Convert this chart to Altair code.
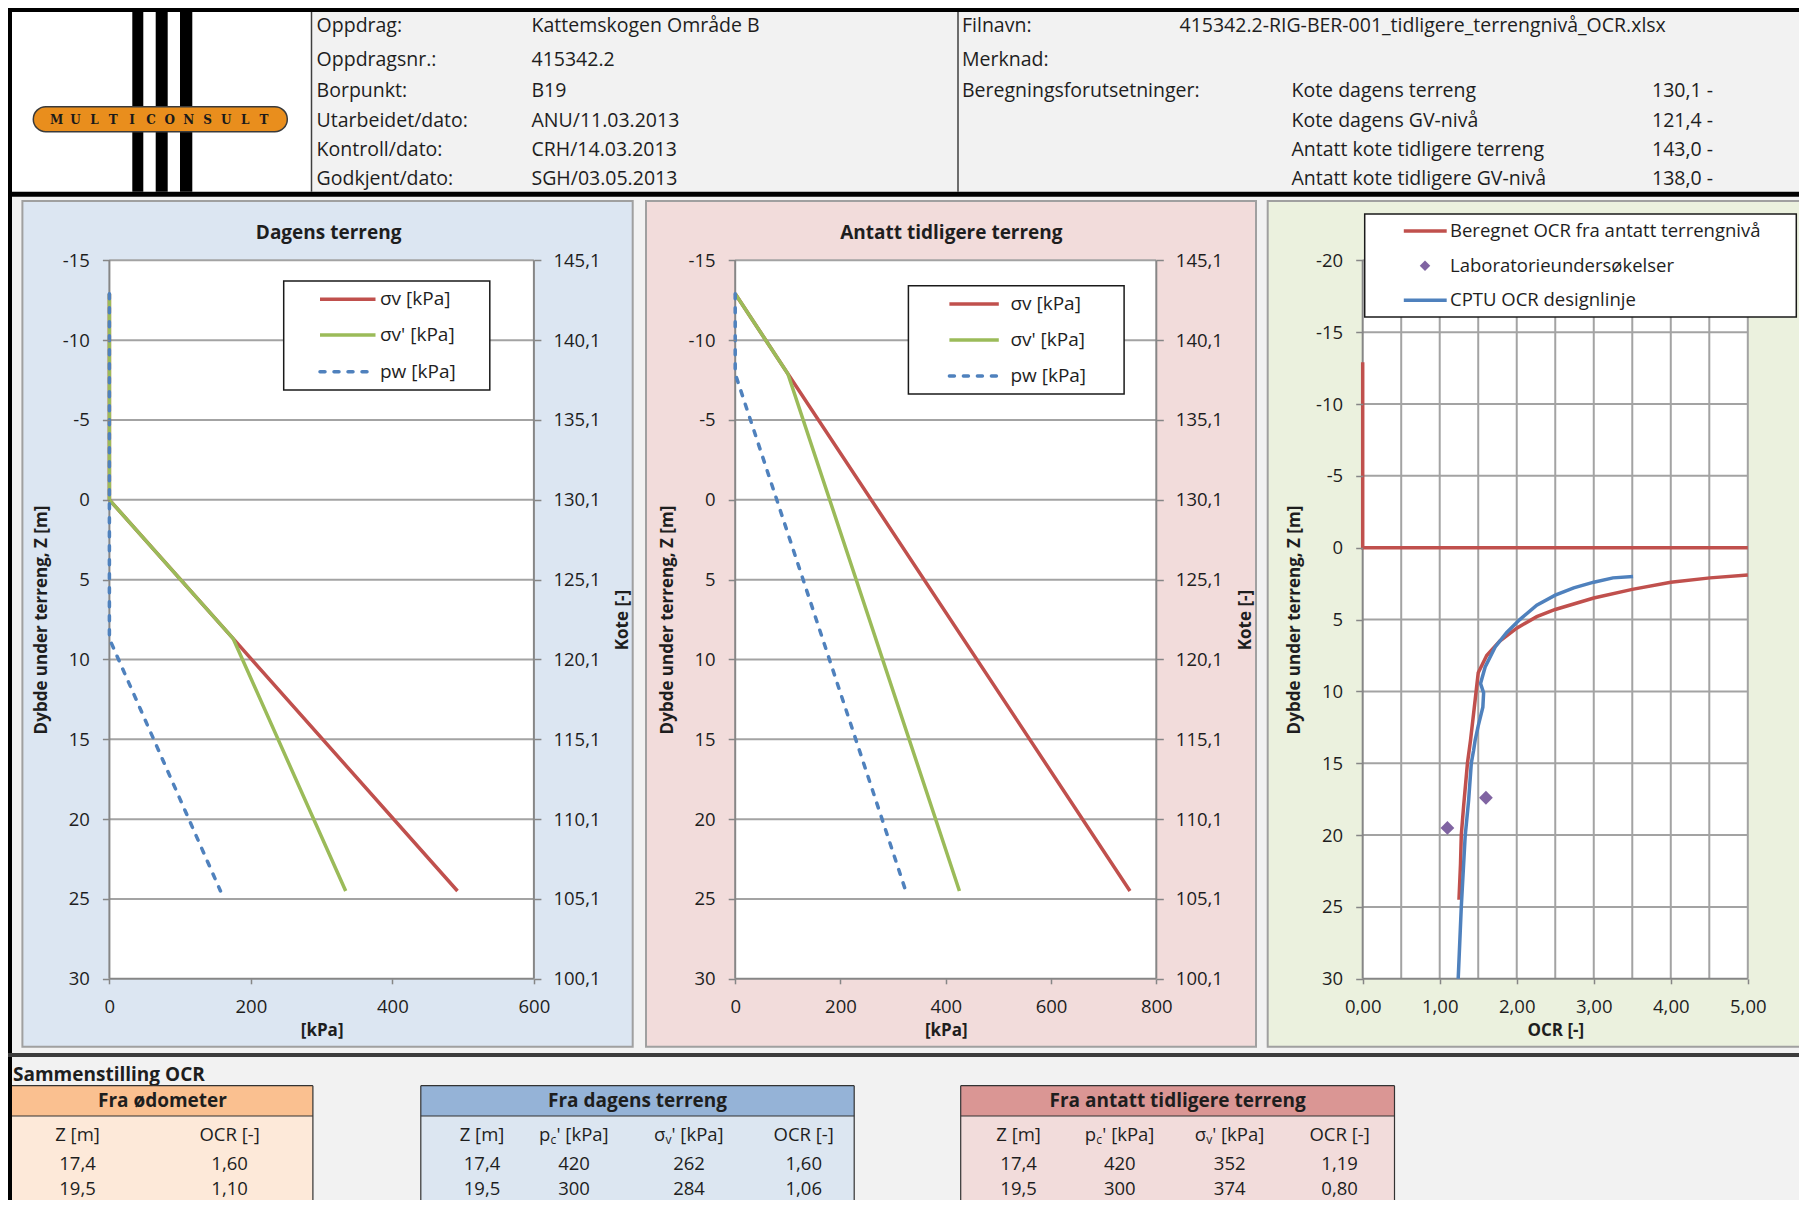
import altair as alt
import pandas as pd

W, H = 1791, 1192
FONT = "Open Sans"
TXT = "#1e1e1e"
RED, GREEN, BLUE, PURPLE = "#c0504d", "#9bbb59", "#4f81bd", "#8064a2"
GRID = "#a3a3a3"
AXC = "#868686"

# ---------------- data ----------------
header_left_labels = ["Oppdrag:", "Oppdragsnr.:", "Borpunkt:", "Utarbeidet/dato:", "Kontroll/dato:", "Godkjent/dato:"]
header_left_values = ["Kattemskogen Område B", "415342.2", "B19", "ANU/11.03.2013", "CRH/14.03.2013", "SGH/03.05.2013"]
header_right_labels = ["Filnavn:", "Merknad:", "Beregningsforutsetninger:"]
file_name = "415342.2-RIG-BER-001_tidligere_terrengnivå_OCR.xlsx"
param_names = ["Kote dagens terreng", "Kote dagens GV-nivå", "Antatt kote tidligere terreng", "Antatt kote tidligere GV-nivå"]
param_values = [130.1, 121.4, 143.0, 138.0]
logo_letters = list("MULTICONSULT")

panel_titles = ["Dagens terreng", "Antatt tidligere terreng"]
stress_labels = ["σv [kPa]", "σv' [kPa]", "pw [kPa]"]
ocr_labels = ["Beregnet OCR fra antatt terrengnivå", "Laboratorieundersøkelser", "CPTU OCR designlinje"]
depth_title = "Dybde under terreng, Z [m]"

depth_ticks = [-15, -10, -5, 0, 5, 10, 15, 20, 25, 30]
ocr_depth_ticks = [-20, -15, -10, -5, 0, 5, 10, 15, 20, 25, 30]
kpa_ticks_dagens = [0, 200, 400, 600]
kpa_ticks_tidl = [0, 200, 400, 600, 800]
ocr_ticks = [0, 1, 2, 3, 4, 5]
ocr_grid = [0.5, 1.0, 1.5, 2.0, 2.5, 3.0, 3.5, 4.0, 4.5, 5.0]

# Dagens terreng (depth [m], stress [kPa])
depth_dagens = [-12.9, 0.0, 8.7, 24.5]
sv_dagens = [0, 0, 175, 492]
sve_dagens = [0, 0, 175, 334]
pw_dagens = [0, 0, 0, 157]

# Antatt tidligere terreng
depth_tidl = [-12.9, -7.9, 24.5]
sv_tidl = [0, 100, 750]
sve_tidl = [0, 100, 426]
pw_tidl = [0, 0, 324]

# OCR panel
ocr_calc_depth_a = [-12.9, 0.0, 0.0]
ocr_calc_a = [0.0, 0.0, 5.0]
ocr_calc_depth_b = [1.9, 2.1, 2.4, 2.9, 3.5, 4.3, 4.8, 5.6, 6.5, 7.5, 8.7, 10.6, 13.4, 15.0, 18.0, 20.0, 22.0, 24.5]
ocr_calc_b = [5.00, 4.51, 4.00, 3.50, 3.00, 2.50, 2.26, 2.00, 1.78, 1.61, 1.50, 1.46, 1.40, 1.36, 1.31, 1.28, 1.27, 1.25]
cptu_depth = [2.0, 2.1, 2.4, 2.8, 3.3, 4.0, 5.0, 5.9, 6.9, 8.3, 9.45, 10.1, 11.1, 12.4, 13.4, 14.1, 15.0, 17.6, 20.1, 25.0, 30.0]
cptu_ocr = [3.51, 3.25, 3.00, 2.74, 2.50, 2.26, 2.04, 1.87, 1.72, 1.59, 1.53, 1.57, 1.56, 1.50, 1.46, 1.44, 1.41, 1.375, 1.33, 1.28, 1.24]

# Tables
lab_z = [17.4, 19.5]
lab_ocr = [1.60, 1.10]
pc_values = [420, 300]
sve_dagens_samples = [262, 284]
ocr_dagens_samples = [1.60, 1.06]
sve_tidl_samples = [352, 374]
ocr_tidl_samples = [1.19, 0.80]
table_titles = ["Fra ødometer", "Fra dagens terreng", "Fra antatt tidligere terreng"]


def nf(v, d):
    return f"{v:.{d}f}".replace(".", ",")


ONE = pd.DataFrame({"k": [0]})


# ---------------- helpers (decoration) ----------------
def rect(x, x2, y, y2, fill, stroke=None, sw=0, **kw):
    props = dict(fill=fill, **kw)
    if stroke is not None:
        props.update(stroke=stroke, strokeWidth=sw)
    else:
        props.update(strokeWidth=0)
    return alt.Chart(ONE).mark_rect(**props).encode(
        x=alt.value(x), x2=alt.value(x2), y=alt.value(y), y2=alt.value(y2))


def hline(x, x2, y, color, sw, dash=None, cap="butt"):
    props = dict(color=color, strokeWidth=sw, strokeCap=cap)
    if dash:
        props["strokeDash"] = dash
    return alt.Chart(ONE).mark_rule(**props).encode(x=alt.value(x), x2=alt.value(x2), y=alt.value(y))


def vline(x, y, y2, color, sw):
    return alt.Chart(ONE).mark_rule(color=color, strokeWidth=sw).encode(
        x=alt.value(x), y=alt.value(y), y2=alt.value(y2))


def text(t, x, y, size=19, weight="normal", align="left", color=TXT, font=FONT):
    return alt.Chart(ONE).mark_text(text=t, fontSize=size, fontWeight=weight, align=align,
                                    baseline="middle", color=color, font=font).encode(
        x=alt.value(x), y=alt.value(y))


AX = dict(labelFont=FONT, labelFontSize=18.5, labelColor=TXT, titleFont=FONT, titleFontSize=17,
          titleFontWeight="bold", titleColor=TXT, tickColor=AXC, tickWidth=1.5, domain=False,
          grid=False, labelFlush=False, labelOverlap=False, zindex=1)

PY0, PY1 = 252.3, 970.8
LW = 3.5

layers = []

# ---------------- header ----------------
layers.append(rect(4, 303.5, 4, 183.7, "white"))
for bx0, bx1 in [(124.3, 135.3), (147.7, 159.7), (172, 184.3)]:
    layers.append(rect(bx0, bx1, 4, 183.7, "black"))
layers.append(rect(25.3, 279.3, 98.7, 123.7, "#e98e1d", stroke="#3a3a3a", sw=1.5, cornerRadius=12.5))
letters = pd.DataFrame({"i": list(range(len(logo_letters))), "t": logo_letters})
layers.append(alt.Chart(letters).mark_text(font="DejaVu Serif", fontSize=12, fontWeight="bold", color="#1a1a1a",
                                           baseline="middle").encode(
    x=alt.X("i:Q", scale=alt.Scale(domain=[0, len(logo_letters) - 1], range=[48.7, 256], zero=False, nice=False), axis=None),
    y=alt.value(111.5), text="t:N"))
layers.append(vline(303.5, 4, 183.7, "#404040", 1.5))
layers.append(vline(950, 4, 183.7, "#404040", 1.5))

HDR_ROW_Y = [17.8, 51.6, 82.8, 112.8, 141.7, 171.3]


def hdr_text(rows, texts, x):
    df = pd.DataFrame({"r": rows, "t": texts})
    return alt.Chart(df).mark_text(align="left", baseline="middle", font=FONT, fontSize=19.5, color=TXT).encode(
        x=alt.value(x),
        y=alt.Y("r:Q", scale=alt.Scale(domain=list(range(6)), range=HDR_ROW_Y, zero=False, nice=False), axis=None),
        text="t:N")


layers.append(hdr_text(list(range(6)), header_left_labels, 308.6))
layers.append(hdr_text(list(range(6)), header_left_values, 523.5))
layers.append(hdr_text([0, 1, 2], header_right_labels, 954))
layers.append(hdr_text([0], [file_name], 1171.5))
layers.append(hdr_text([2, 3, 4, 5], param_names, 1283.5))
layers.append(hdr_text([2, 3, 4, 5], [nf(v, 1) + " -" for v in param_values], 1644))

# frame
layers.append(rect(0, W, 0, 4, "black"))
layers.append(rect(0, 4, 0, H, "black"))
layers.append(rect(0, W, 183.7, 188.7, "black"))

# ---------------- panel backgrounds ----------------
layers.append(rect(14.4, 624.7, 193, 1038.7, "#dce6f2", stroke="#a0a0a0", sw=2))
layers.append(rect(638, 1248, 193, 1038.7, "#f2dcdb", stroke="#a0a0a0", sw=2))
layers.append(rect(1259.7, 1800, 193, 1038.7, "#ebf1de", stroke="#a0a0a0", sw=2))
layers.append(text(panel_titles[0], 320.6, 224.7, weight="bold", align="center"))
layers.append(text(panel_titles[1], 943.4, 224.7, weight="bold", align="center"))


def y_axis_layer(ticks, scale, axis):
    return alt.Chart(pd.DataFrame({"g": ticks})).mark_point(opacity=0).encode(
        y=alt.Y("g:Q", scale=scale, axis=axis))


def x_axis_layer(ticks, scale, axis):
    return alt.Chart(pd.DataFrame({"g": ticks})).mark_point(opacity=0).encode(
        x=alt.X("g:Q", scale=scale, axis=axis))


def stress_panel(depth, sv, sve, pw, xmax, xticks, px0, px1, kote0):
    xsc = alt.Scale(domain=[0, xmax], range=[px0, px1], zero=False, nice=False)
    ysc = alt.Scale(domain=[-15, 30], range=[PY0, PY1], zero=False, nice=False)

    def xd(v):
        return alt.XDatum(v, type="quantitative", scale=xsc, axis=None)

    def yd(v):
        return alt.YDatum(v, type="quantitative", scale=ysc, axis=None)

    plot_bg = alt.Chart(ONE).mark_rect(fill="white", strokeWidth=0).encode(
        x=xd(0), x2=alt.X2Datum(xmax), y=yd(-15), y2=alt.Y2Datum(30))
    grid = alt.Chart(pd.DataFrame({"g": depth_ticks[:-1]})).mark_rule(color=GRID, strokeWidth=2).encode(
        y=alt.Y("g:Q", scale=ysc, axis=None), x=xd(0), x2=alt.X2Datum(xmax))
    left = alt.Chart(ONE).mark_rule(color=AXC, strokeWidth=2).encode(x=xd(0), y=yd(-15), y2=alt.Y2Datum(30))
    right = alt.Chart(ONE).mark_rule(color=AXC, strokeWidth=2).encode(x=xd(xmax), y=yd(-15), y2=alt.Y2Datum(30))
    bottom = alt.Chart(ONE).mark_rule(color=AXC, strokeWidth=2).encode(y=yd(30), x=xd(0), x2=alt.X2Datum(xmax))

    def series(vals, color, dash=None):
        df = pd.DataFrame({"z": depth, "v": vals, "i": list(range(len(depth)))})
        props = dict(color=color, strokeWidth=LW)
        if dash:
            props["strokeDash"] = dash
            props["strokeCap"] = "round"
        return alt.Chart(df).mark_line(**props).encode(
            x=alt.X("v:Q", scale=xsc, axis=None),
            y=alt.Y("z:Q", scale=ysc, axis=None),
            order=alt.Order("i:Q"))

    main = alt.layer(plot_bg, grid, left, right, bottom,
                     series(sv, RED), series(sve, GREEN), series(pw, BLUE, dash=[5, 9]))

    y_axis = alt.Axis(orient="left", offset=-px0, values=depth_ticks, labelExpr="'' + datum.value",
                      title=depth_title, tickSize=7, labelPadding=13, titlePadding=12, **AX)
    x_axis = alt.Axis(orient="bottom", offset=PY1 - H, values=xticks, labelExpr="'' + datum.value",
                      title="[kPa]", tickSize=5, labelPadding=14, titlePadding=6, **AX)
    kote_axis = alt.Axis(orient="right", offset=px1 - W, values=depth_ticks,
                         labelExpr=f"replace(format({kote0} - datum.value, '.1f'), '.', ',')",
                         title="Kote [-]", titleAngle=270, tickSize=7, labelPadding=12, titlePadding=32, **AX)
    return [main,
            y_axis_layer(depth_ticks, ysc, y_axis),
            x_axis_layer(xticks, xsc, x_axis),
            y_axis_layer(depth_ticks, ysc, kote_axis)]


def stress_legend(x0, x1, y0, y1, ys, sx0, sx1, tx):
    out = [rect(x0, x1, y0, y1, "white", stroke="#1a1a1a", sw=1.5)]
    for lab, y, col, dash in zip(stress_labels, ys, [RED, GREEN, BLUE], [None, None, [5, 9]]):
        out.append(hline(sx0, sx1, y, col, LW, dash, cap="round" if dash else "butt"))
        out.append(text(lab, tx, y))
    return out


layers += stress_panel(depth_dagens, sv_dagens, sve_dagens, pw_dagens, 600, kpa_ticks_dagens,
                       101.4, 525.9, param_values[0])
layers += stress_legend(275.7, 481.8, 273, 382, [291.3, 327, 363.7], 312, 367.5, 372)

layers += stress_panel(depth_tidl, sv_tidl, sve_tidl, pw_tidl, 800, kpa_ticks_tidl,
                       727.2, 1148.3, param_values[0])
layers += stress_legend(900.4, 1116.1, 277.7, 386, [296, 332, 368], 941.4, 990.8, 1002.4)

# ---------------- OCR panel ----------------
oxsc = alt.Scale(domain=[0, 5], range=[1354.7, 1739.8], zero=False, nice=False)
oysc = alt.Scale(domain=[-20, 30], range=[PY0, PY1], zero=False, nice=False)


def oxd(v):
    return alt.XDatum(v, type="quantitative", scale=oxsc, axis=None)


def oyd(v):
    return alt.YDatum(v, type="quantitative", scale=oysc, axis=None)


o_bg = alt.Chart(ONE).mark_rect(fill="white", strokeWidth=0).encode(
    x=oxd(0), x2=alt.X2Datum(5), y=oyd(-20), y2=alt.Y2Datum(30))
o_vgrid = alt.Chart(pd.DataFrame({"g": ocr_grid})).mark_rule(color=GRID, strokeWidth=2).encode(
    x=alt.X("g:Q", scale=oxsc, axis=None), y=oyd(-20), y2=alt.Y2Datum(30))
o_hgrid = alt.Chart(pd.DataFrame({"g": ocr_depth_ticks[:-1]})).mark_rule(color=GRID, strokeWidth=2).encode(
    y=alt.Y("g:Q", scale=oysc, axis=None), x=oxd(0), x2=alt.X2Datum(5))
o_left = alt.Chart(ONE).mark_rule(color=AXC, strokeWidth=2).encode(x=oxd(0), y=oyd(-20), y2=alt.Y2Datum(30))
o_bottom = alt.Chart(ONE).mark_rule(color=AXC, strokeWidth=2).encode(y=oyd(30), x=oxd(0), x2=alt.X2Datum(5))

red_df = pd.DataFrame({
    "seg": ["a"] * len(ocr_calc_a) + ["b"] * len(ocr_calc_b),
    "z": ocr_calc_depth_a + ocr_calc_depth_b,
    "o": ocr_calc_a + ocr_calc_b,
    "i": list(range(len(ocr_calc_a) + len(ocr_calc_b))),
})
o_red = alt.Chart(red_df).mark_line(color=RED, strokeWidth=LW).encode(
    x=alt.X("o:Q", scale=oxsc, axis=None), y=alt.Y("z:Q", scale=oysc, axis=None),
    detail="seg:N", order=alt.Order("i:Q"))
lab_df = pd.DataFrame({"z": lab_z, "o": lab_ocr})
o_lab = alt.Chart(lab_df).mark_point(shape="diamond", filled=True, size=190, color=PURPLE, opacity=1).encode(
    x=alt.X("o:Q", scale=oxsc, axis=None), y=alt.Y("z:Q", scale=oysc, axis=None))
cptu_df = pd.DataFrame({"z": cptu_depth, "o": cptu_ocr, "i": list(range(len(cptu_depth)))})
o_blue = alt.Chart(cptu_df).mark_line(color=BLUE, strokeWidth=LW).encode(
    x=alt.X("o:Q", scale=oxsc, axis=None), y=alt.Y("z:Q", scale=oysc, axis=None), order=alt.Order("i:Q"))

layers.append(alt.layer(o_bg, o_vgrid, o_hgrid, o_left, o_bottom, o_red, o_lab, o_blue))

o_yaxis = alt.Axis(orient="left", offset=-1354.7, values=ocr_depth_ticks, labelExpr="'' + datum.value",
                   title=depth_title, tickSize=7, labelPadding=13, titlePadding=12, **AX)
o_xaxis = alt.Axis(orient="bottom", offset=PY1 - H, values=ocr_ticks,
                   labelExpr="replace(format(datum.value, '.2f'), '.', ',')",
                   title="OCR [-]", tickSize=5, labelPadding=14, titlePadding=6, **AX)
layers.append(y_axis_layer(ocr_depth_ticks, oysc, o_yaxis))
layers.append(x_axis_layer(ocr_ticks, oxsc, o_xaxis))

# OCR legend
layers.append(rect(1356.7, 1788.3, 206, 309, "white", stroke="#1a1a1a", sw=1.5))
layers.append(hline(1395.8, 1438.7, 223, RED, LW))
layers.append(text(ocr_labels[0], 1442, 223, size=18.5))
layers.append(alt.Chart(ONE).mark_point(shape="diamond", filled=True, size=110, color=PURPLE, opacity=1).encode(
    x=alt.value(1417), y=alt.value(257.7)))
layers.append(text(ocr_labels[1], 1442, 257.7, size=18.5))
layers.append(hline(1395.8, 1438.7, 292.3, BLUE, LW))
layers.append(text(ocr_labels[2], 1442, 292.3, size=18.5))

# ---------------- bottom tables ----------------
layers.append(rect(0, W, 1045, 1049, "#3c3c3c"))
layers.append(text("Sammenstilling OCR", 5, 1067, weight="bold"))

TAB_Y0, TAB_Y1 = 1077.7, 1108
ROW_Y = [1127, 1155.5, 1181]
TFS = 18.5

tables = [
    dict(x0=4, x1=304.9, head="#fac090", body="#fde9d9", centers=[69.5, 221.6],
         cols=[[nf(v, 1) for v in lab_z], [nf(v, 2) for v in lab_ocr]]),
    dict(x0=412.8, x1=846.2, head="#95b3d7", body="#dce6f1", centers=[474, 566, 681, 795.7],
         cols=[[nf(v, 1) for v in lab_z], [str(v) for v in pc_values], [str(v) for v in sve_dagens_samples],
               [nf(v, 2) for v in ocr_dagens_samples]]),
    dict(x0=952.7, x1=1386.5, head="#da9694", body="#f2dcdb", centers=[1010.6, 1111.8, 1221.7, 1331.6],
         cols=[[nf(v, 1) for v in lab_z], [str(v) for v in pc_values], [str(v) for v in sve_tidl_samples],
               [nf(v, 2) for v in ocr_tidl_samples]]),
]

for ti, tb in enumerate(tables):
    layers.append(rect(tb["x0"], tb["x1"], TAB_Y1, H, tb["body"]))
    layers.append(rect(tb["x0"], tb["x1"], TAB_Y0, TAB_Y1, tb["head"]))
    layers.append(hline(tb["x0"], tb["x1"], TAB_Y0, "#333333", 1.2))
    layers.append(hline(tb["x0"], tb["x1"], TAB_Y1, "#333333", 1.2))
    if ti > 0:
        layers.append(vline(tb["x0"], TAB_Y0, H, "#333333", 1.2))
    layers.append(vline(tb["x1"], TAB_Y0, H, "#333333", 1.2))
    layers.append(text(table_titles[ti], (tb["x0"] + tb["x1"]) / 2, (TAB_Y0 + TAB_Y1) / 2,
                       weight="bold", align="center"))
    n = len(tb["centers"])
    recs = []
    for c, colvals in enumerate(tb["cols"]):
        for r, v in enumerate(colvals):
            recs.append({"c": c, "r": r + 1, "t": v})
    recs.append({"c": 0, "r": 0, "t": "Z [m]"})
    recs.append({"c": n - 1, "r": 0, "t": "OCR [-]"})
    tdf = pd.DataFrame(recs)
    layers.append(alt.Chart(tdf).mark_text(font=FONT, fontSize=TFS, color=TXT, align="center", baseline="middle").encode(
        x=alt.X("c:Q", scale=alt.Scale(domain=list(range(n)), range=tb["centers"], zero=False, nice=False), axis=None),
        y=alt.Y("r:Q", scale=alt.Scale(domain=[0, 1, 2], range=ROW_Y, zero=False, nice=False), axis=None),
        text="t:N"))
    if n == 4:
        for main_ch, sub_ch, cx in [("p", "c", tb["centers"][1]), ("σ", "v", tb["centers"][2])]:
            layers.append(text(main_ch, cx - 35, ROW_Y[0], size=TFS))
            layers.append(text(sub_ch, cx - 23.5, ROW_Y[0] + 5, size=12))
            layers.append(text("' [kPa]", cx - 17.5, ROW_Y[0], size=TFS))

chart = alt.layer(*layers).resolve_scale(x="independent", y="independent").properties(
    width=W, height=H, padding=0, autosize=alt.AutoSizeParams(type="none"), background="#f2f2f2"
).configure_view(stroke=None)

chart.save("out.html", embed_options={"renderer": "svg", "actions": False})
